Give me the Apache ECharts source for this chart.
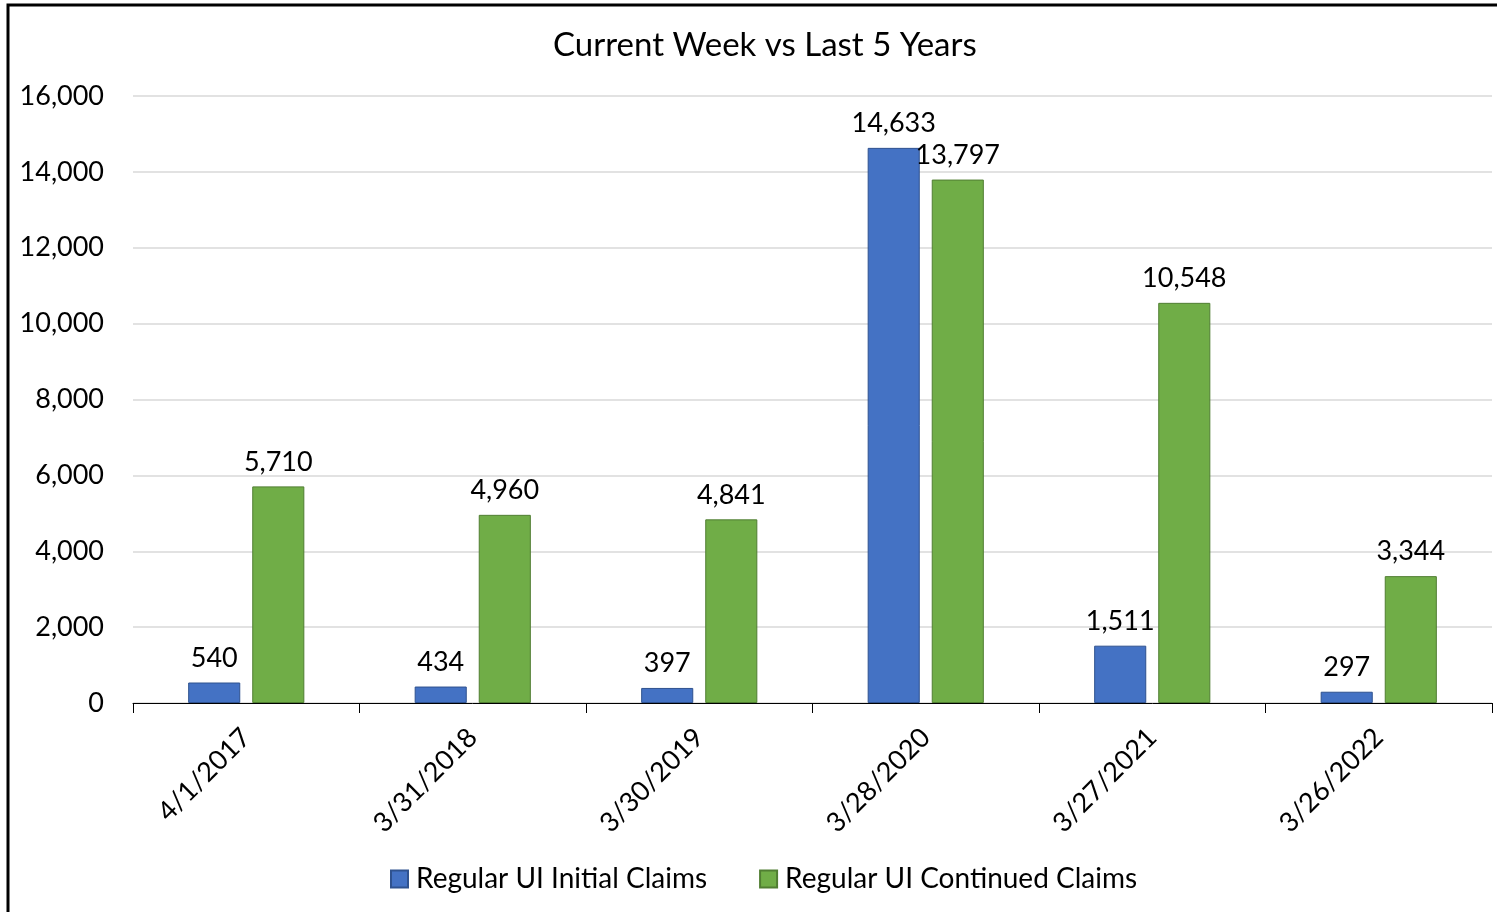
<!DOCTYPE html>
<html>
<head>
<meta charset="utf-8">
<title>Current Week vs Last 5 Years</title>
<script src="https://cdn.jsdelivr.net/npm/echarts@6/dist/echarts.min.js"></script>
<style>
  html, body { margin: 0; padding: 0; background: #fff; }
  #chart { width: 1497px; height: 912px; }
</style>
</head>
<body>
<div id="chart"></div>
<script>
// data
var weeks = ['4/1/2017', '3/31/2018', '3/30/2019', '3/28/2020', '3/27/2021', '3/26/2022']
var initialClaims = [540, 434, 397, 14633, 1511, 297]
var continuedClaims = [5710, 4960, 4841, 13797, 10548, 3344]
var yTicks = [0, 2000, 4000, 6000, 8000, 10000, 12000, 14000, 16000]

var FONT = 'Lato'
function fmt(v) {
  return Number(v).toLocaleString('en-US')
}

var chart = echarts.init(document.getElementById('chart'))
chart.setOption({
  animation: false,
  textStyle: { fontFamily: FONT },
  title: {
    text: 'Current Week vs Last 5 Years',
    left: 548,
    top: 24,
    textStyle: { fontFamily: FONT, fontSize: 33, fontWeight: 'normal', color: '#000' }
  },
  graphic: [{
    // outer frame, only top and left edges are in view
    type: 'rect',
    shape: { x: 8, y: 5, width: 1600, height: 1000 },
    style: { fill: 'none', stroke: '#000', lineWidth: 3 },
    silent: true
  }],
  legend: {
    bottom: 14,
    left: 385,
    icon: 'rect',
    itemWidth: 17,
    itemHeight: 17,
    itemGap: 52,
    textStyle: { fontFamily: FONT, fontSize: 28, color: '#000', padding: [0, 0, 0, 3] },
    data: ['Regular UI Initial Claims', 'Regular UI Continued Claims']
  },
  grid: { left: 133, right: 5, top: 96, bottom: 209, containLabel: false },
  xAxis: {
    type: 'category',
    data: weeks,
    axisLine: { lineStyle: { color: '#000', width: 1 } },
    axisTick: { show: true, length: 10, lineStyle: { color: '#000' } },
    axisLabel: { rotate: 45, fontSize: 27, color: '#000', margin: 30, fontFamily: FONT }
  },
  yAxis: {
    type: 'value',
    min: yTicks[0],
    max: yTicks[yTicks.length - 1],
    interval: 2000,
    axisLine: { show: false },
    axisTick: { show: false },
    splitLine: { lineStyle: { color: '#d9d9d9', width: 1.5 } },
    axisLabel: { fontSize: 27, color: '#000', margin: 29, fontFamily: FONT, formatter: fmt }
  },
  series: [
    {
      name: 'Regular UI Initial Claims',
      type: 'bar',
      data: initialClaims,
      barWidth: '23%',
      barGap: '23%',
      itemStyle: { color: '#4472C4', borderColor: '#2F528F', borderWidth: 1 },
      label: { show: true, position: 'top', distance: 11, fontSize: 27, color: '#000', formatter: function (p) { return fmt(p.value) } }
    },
    {
      name: 'Regular UI Continued Claims',
      type: 'bar',
      data: continuedClaims,
      barWidth: '23%',
      itemStyle: { color: '#70AD47', borderColor: '#507E32', borderWidth: 1 },
      label: { show: true, position: 'top', distance: 11, fontSize: 27, color: '#000', formatter: function (p) { return fmt(p.value) } }
    }
  ]
})
</script>
</body>
</html>
